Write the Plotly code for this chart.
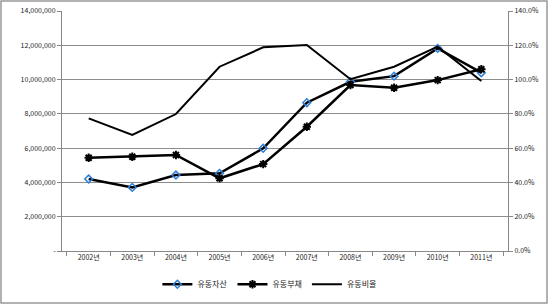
import plotly.graph_objects as go

years = ["2002년", "2003년", "2004년", "2005년", "2006년", "2007년", "2008년", "2009년", "2010년", "2011년"]
assets = [4200000, 3710000, 4430000, 4530000, 5990000, 8650000, 9870000, 10200000, 11820000, 10400000]
liabilities = [5440000, 5500000, 5600000, 4240000, 5070000, 7250000, 9680000, 9520000, 9970000, 10600000]
ratio = [0.774, 0.677, 0.799, 1.075, 1.188, 1.202, 1.002, 1.075, 1.192, 0.992]

left_ticks = [0, 2000000, 4000000, 6000000, 8000000, 10000000, 12000000, 14000000]
left_labels = ["-", "2,000,000", "4,000,000", "6,000,000", "8,000,000", "10,000,000", "12,000,000", "14,000,000"]
right_ticks = [0, 0.2, 0.4, 0.6, 0.8, 1.0, 1.2, 1.4]
right_labels = ["0.0%", "20.0%", "40.0%", "60.0%", "80.0%", "100.0%", "120.0%", "140.0%"]

font = "Noto Sans CJK KR"

fig = go.Figure()
fig.add_trace(go.Scatter(
    x=years, y=assets, name="유동자산", mode="lines+markers",
    line=dict(color="black", width=2.5),
    marker=dict(symbol="diamond-open", size=6, color="#2f7fd8", line=dict(width=1.5, color="#2f7fd8")),
))
fig.add_trace(go.Scatter(
    x=years, y=liabilities, name="유동부채", mode="lines+markers",
    line=dict(color="black", width=2.5),
    marker=dict(symbol="asterisk-open", size=7, color="black", line=dict(width=2, color="black")),
))
fig.add_trace(go.Scatter(
    x=years, y=ratio, name="유동비율", mode="lines", yaxis="y2",
    line=dict(color="black", width=2),
))

fig.update_layout(
    width=550, height=305,
    margin=dict(l=62, r=42, t=11, b=54, autoexpand=False),
    paper_bgcolor="white", plot_bgcolor="white",
    font=dict(family=font, size=7, color="#222"),
    showlegend=True,
    legend=dict(orientation="h", x=0.465, xanchor="center", yref="container", y=0.068, yanchor="middle",
                font=dict(size=8), itemwidth=30, tracegroupgap=0),
    xaxis=dict(
        type="category", showgrid=False, showline=True, linecolor="#888", linewidth=1,
        ticks="outside", tickson="boundaries", ticklen=4, tickcolor="#888",
        tickfont=dict(size=7), tickangle=0, automargin=False,
    ),
    yaxis=dict(
        range=[0, 14000000], tickvals=left_ticks, ticktext=left_labels,
        showgrid=True, gridcolor="#8c8c8c", gridwidth=1, automargin=False,
        showline=True, linecolor="#888", linewidth=1, ticks="outside", ticklen=4, tickcolor="#888",
        tickfont=dict(size=7), zeroline=False,
    ),
    yaxis2=dict(
        range=[0, 1.4], tickvals=right_ticks, ticktext=right_labels, overlaying="y", side="right",
        showgrid=False, showline=True, linecolor="#888", linewidth=1, ticks="outside", ticklen=4,
        tickcolor="#888", tickfont=dict(size=7), zeroline=False, automargin=False,
    ),
    shapes=[dict(type="rect", xref="paper", yref="paper",
                 x0=-61 / 446, x1=(547 - 62) / 446, y0=-52 / 240, y1=1 + 10 / 240,
                 line=dict(color="#999", width=1.5), fillcolor="rgba(0,0,0,0)", layer="below")],
)

fig.write_html("out.html")
